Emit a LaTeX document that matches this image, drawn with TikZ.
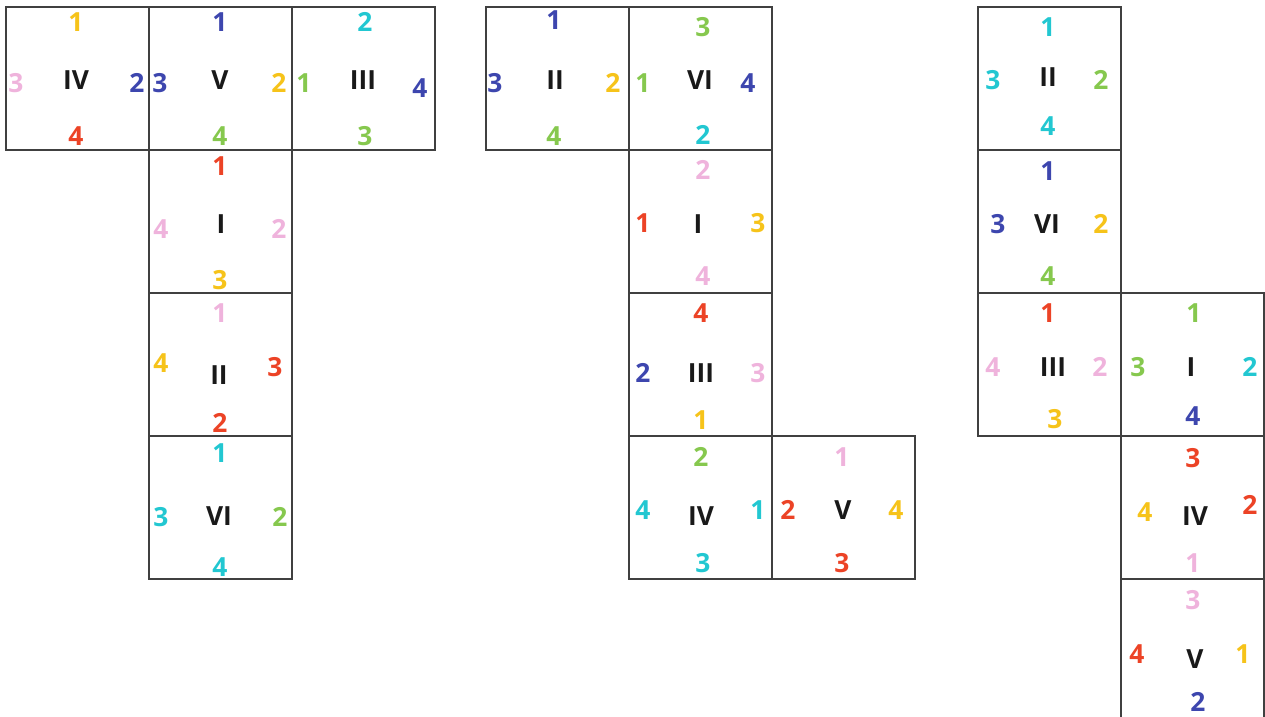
\documentclass[tikz,border=0pt]{standalone}
\usepackage{fontspec}
\setmainfont{Open Sans}[BoldFont={Open Sans Bold}]
\definecolor{cyel}{HTML}{F6C31A}
\definecolor{cblu}{HTML}{3D46AE}
\definecolor{ccya}{HTML}{22C7D1}
\definecolor{cgrn}{HTML}{86C84E}
\definecolor{cred}{HTML}{EC4326}
\definecolor{cpnk}{HTML}{EFB3DC}

\begin{document}
\begin{tikzpicture}[x=0.02cm, y=-0.02cm,
  face/.style={draw=black!75, line width=0.8pt, minimum size=2.86cm, inner sep=0pt},
  rn/.style={font=\fontsize{15}{16}\selectfont\bfseries, text=black!90, inner sep=0pt},
  num/.style={font=\fontsize{15}{16}\selectfont\bfseries, inner sep=0pt}]
  \useasboundingbox (0,0) rectangle (1265,717);

  % First net
  \node[face] (aIV)  at (77.5,78.5) {};
  \node[face] (aV)   at (220.5,78.5) {};
  \node[face] (aIII) at (363.5,78.5) {};
  \node[face] (aI)   at (220.5,221.5) {};
  \node[face] (aII)  at (220.5,364.5) {};
  \node[face] (aVI)  at (220.5,507.5) {};
  % IV
  \node[rn] (aIV-n) at (76,80) {IV};
  \node[num, text=cyel] (aIV-t) at (76,22) {1};
  \node[num, text=cpnk] (aIV-l) at (16,83) {3};
  \node[num, text=cblu] (aIV-r) at (137,83) {2};
  \node[num, text=cred] (aIV-b) at (76,136) {4};
  % V
  \node[rn] (aV-n) at (220,80) {V};
  \node[num, text=cblu] (aV-t) at (220,22) {1};
  \node[num, text=cblu] (aV-l) at (160,83) {3};
  \node[num, text=cyel] (aV-r) at (279,83) {2};
  \node[num, text=cgrn] (aV-b) at (220,136) {4};
  % III
  \node[rn] (aIII-n) at (363,80) {III};
  \node[num, text=ccya] (aIII-t) at (365,22) {2};
  \node[num, text=cgrn] (aIII-l) at (304,83) {1};
  \node[num, text=cblu] (aIII-r) at (420,88) {4};
  \node[num, text=cgrn] (aIII-b) at (365,136) {3};
  % I
  \node[rn] (aI-n) at (221,224) {I};
  \node[num, text=cred] (aI-t) at (220,166) {1};
  \node[num, text=cpnk] (aI-l) at (161,229) {4};
  \node[num, text=cpnk] (aI-r) at (279,229) {2};
  \node[num, text=cyel] (aI-b) at (220,280) {3};
  % II
  \node[rn] (aII-n) at (219,375) {II};
  \node[num, text=cpnk] (aII-t) at (220,313) {1};
  \node[num, text=cyel] (aII-l) at (161,363) {4};
  \node[num, text=cred] (aII-r) at (275,367) {3};
  \node[num, text=cred] (aII-b) at (220,423) {2};
  % VI
  \node[rn] (aVI-n) at (219,516) {VI};
  \node[num, text=ccya] (aVI-t) at (220,453) {1};
  \node[num, text=ccya] (aVI-l) at (161,517) {3};
  \node[num, text=cgrn] (aVI-r) at (280,517) {2};
  \node[num, text=ccya] (aVI-b) at (220,567) {4};

  % Second net
  \node[face] (bII)  at (557.5,78.5) {};
  \node[face] (bVI)  at (700.5,78.5) {};
  \node[face] (bI)   at (700.5,221.5) {};
  \node[face] (bIII) at (700.5,364.5) {};
  \node[face] (bIV)  at (700.5,507.5) {};
  \node[face] (bV)   at (843.5,507.5) {};
  % II
  \node[rn] (bII-n) at (555,80) {II};
  \node[num, text=cblu] (bII-t) at (554,20) {1};
  \node[num, text=cblu] (bII-l) at (495,83) {3};
  \node[num, text=cyel] (bII-r) at (613,83) {2};
  \node[num, text=cgrn] (bII-b) at (554,136) {4};
  % VI
  \node[rn] (bVI-n) at (700,80) {VI};
  \node[num, text=cgrn] (bVI-t) at (703,27) {3};
  \node[num, text=cgrn] (bVI-l) at (643,83) {1};
  \node[num, text=cblu] (bVI-r) at (748,83) {4};
  \node[num, text=ccya] (bVI-b) at (703,135) {2};
  % I
  \node[rn] (bI-n) at (698,224) {I};
  \node[num, text=cpnk] (bI-t) at (703,170) {2};
  \node[num, text=cred] (bI-l) at (643,223) {1};
  \node[num, text=cyel] (bI-r) at (758,223) {3};
  \node[num, text=cpnk] (bI-b) at (703,276) {4};
  % III
  \node[rn] (bIII-n) at (701,373) {III};
  \node[num, text=cred] (bIII-t) at (701,313) {4};
  \node[num, text=cblu] (bIII-l) at (643,373) {2};
  \node[num, text=cpnk] (bIII-r) at (758,373) {3};
  \node[num, text=cyel] (bIII-b) at (701,420) {1};
  % IV
  \node[rn] (bIV-n) at (701,516) {IV};
  \node[num, text=cgrn] (bIV-t) at (701,457) {2};
  \node[num, text=ccya] (bIV-l) at (643,510) {4};
  \node[num, text=ccya] (bIV-r) at (758,510) {1};
  \node[num, text=ccya] (bIV-b) at (703,563) {3};
  % V
  \node[rn] (bV-n) at (843,510) {V};
  \node[num, text=cpnk] (bV-t) at (842,457) {1};
  \node[num, text=cred] (bV-l) at (788,510) {2};
  \node[num, text=cyel] (bV-r) at (896,510) {4};
  \node[num, text=cred] (bV-b) at (842,563) {3};

  % Third net
  \node[face] (cII)  at (1049.5,78.5) {};
  \node[face] (cVI)  at (1049.5,221.5) {};
  \node[face] (cIII) at (1049.5,364.5) {};
  \node[face] (cI)   at (1192.5,364.5) {};
  \node[face] (cIV)  at (1192.5,507.5) {};
  \node[face] (cV)   at (1192.5,650.5) {};
  % II
  \node[rn] (cII-n) at (1048,77) {II};
  \node[num, text=ccya] (cII-t) at (1048,27) {1};
  \node[num, text=ccya] (cII-l) at (993,80) {3};
  \node[num, text=cgrn] (cII-r) at (1101,80) {2};
  \node[num, text=ccya] (cII-b) at (1048,126) {4};
  % VI
  \node[rn] (cVI-n) at (1047,224) {VI};
  \node[num, text=cblu] (cVI-t) at (1048,171) {1};
  \node[num, text=cblu] (cVI-l) at (998,224) {3};
  \node[num, text=cyel] (cVI-r) at (1101,224) {2};
  \node[num, text=cgrn] (cVI-b) at (1048,276) {4};
  % III
  \node[rn] (cIII-n) at (1053,367) {III};
  \node[num, text=cred] (cIII-t) at (1048,313) {1};
  \node[num, text=cpnk] (cIII-l) at (993,367) {4};
  \node[num, text=cpnk] (cIII-r) at (1100,367) {2};
  \node[num, text=cyel] (cIII-b) at (1055,419) {3};
  % I
  \node[rn] (cI-n) at (1191,367) {I};
  \node[num, text=cgrn] (cI-t) at (1194,313) {1};
  \node[num, text=cgrn] (cI-l) at (1138,367) {3};
  \node[num, text=ccya] (cI-r) at (1250,367) {2};
  \node[num, text=cblu] (cI-b) at (1193,416) {4};
  % IV
  \node[rn] (cIV-n) at (1195,516) {IV};
  \node[num, text=cred] (cIV-t) at (1193,458) {3};
  \node[num, text=cyel] (cIV-l) at (1145,512) {4};
  \node[num, text=cred] (cIV-r) at (1250,505) {2};
  \node[num, text=cpnk] (cIV-b) at (1193,563) {1};
  % V
  \node[rn] (cV-n) at (1195,659) {V};
  \node[num, text=cpnk] (cV-t) at (1193,600) {3};
  \node[num, text=cred] (cV-l) at (1137,654) {4};
  \node[num, text=cyel] (cV-r) at (1243,654) {1};
  \node[num, text=cblu] (cV-b) at (1198,702) {2};
\end{tikzpicture}
\end{document}
